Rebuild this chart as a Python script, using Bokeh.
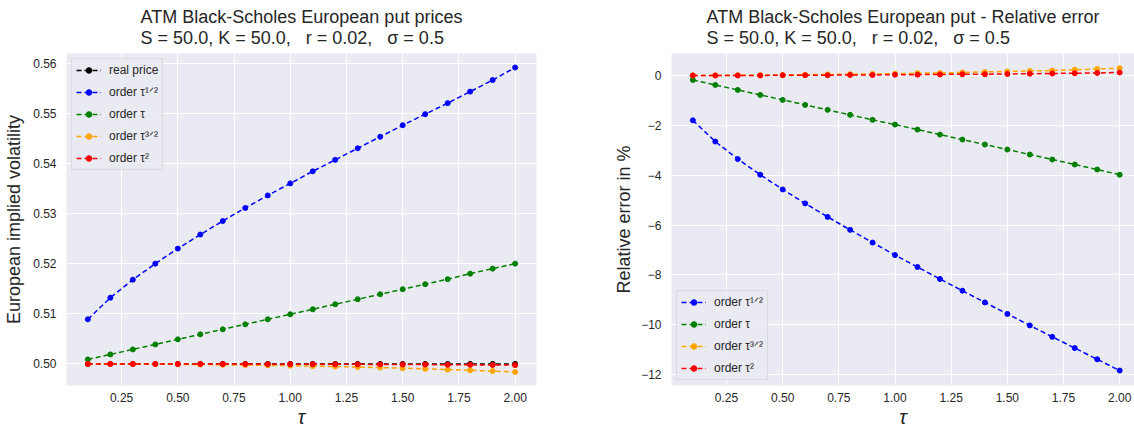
from bokeh.plotting import figure
from bokeh.layouts import row
from bokeh.models import Title, Legend, LegendItem, FixedTicker, NumeralTickFormatter, Range1d
from bokeh.embed import file_html
from bokeh.resources import INLINE

# ---------------- data ----------------
tau = [0.1, 0.2, 0.3, 0.4, 0.5, 0.6, 0.7, 0.8, 0.9, 1.0,
       1.1, 1.2, 1.3, 1.4, 1.5, 1.6, 1.7, 1.8, 1.9, 2.0]

# implied volatilities (left panel)
iv_real = [0.5000, 0.5000, 0.5000, 0.5000, 0.5000, 0.5000, 0.5000, 0.5000, 0.5000, 0.5000,
           0.5000, 0.5000, 0.5000, 0.5000, 0.5000, 0.5000, 0.5000, 0.5000, 0.5000, 0.5000]
iv_half = [0.5089, 0.5132, 0.5168, 0.5200, 0.5230, 0.5258, 0.5285, 0.5311, 0.5336, 0.5360,
           0.5384, 0.5407, 0.5430, 0.5453, 0.5476, 0.5498, 0.5520, 0.5543, 0.5566, 0.5591]
iv_one = [0.5009, 0.5019, 0.5029, 0.5039, 0.5049, 0.5059, 0.5069, 0.5079, 0.5089, 0.5099,
          0.5109, 0.5119, 0.5129, 0.5139, 0.5149, 0.5159, 0.5169, 0.5180, 0.5190, 0.5200]
iv_threehalf = [0.50000, 0.49999, 0.49997, 0.49995, 0.49992, 0.49988, 0.49983, 0.49978, 0.49972, 0.49965,
                0.49957, 0.49948, 0.49938, 0.49927, 0.49915, 0.49902, 0.49888, 0.49873, 0.49857, 0.49840]
iv_two = [0.50000, 0.50000, 0.50000, 0.49999, 0.49999, 0.49998, 0.49998, 0.49997, 0.49996, 0.49995,
          0.49994, 0.49993, 0.49992, 0.49990, 0.49989, 0.49987, 0.49985, 0.49982, 0.49979, 0.49976]

# relative errors in % (right panel)
err_half = [-1.80, -2.65, -3.35, -3.98, -4.57, -5.13, -5.67, -6.19, -6.70, -7.20,
            -7.68, -8.16, -8.63, -9.10, -9.56, -10.02, -10.48, -10.93, -11.38, -11.83]
err_one = [-0.18, -0.38, -0.58, -0.78, -0.98, -1.18, -1.38, -1.58, -1.78, -1.97,
           -2.17, -2.37, -2.57, -2.77, -2.97, -3.17, -3.37, -3.57, -3.77, -3.98]
err_threehalf = [0.00, 0.00, 0.01, 0.01, 0.02, 0.03, 0.04, 0.05, 0.06, 0.07,
                 0.09, 0.10, 0.12, 0.14, 0.16, 0.18, 0.20, 0.23, 0.26, 0.29]
err_two = [0.00, 0.00, 0.00, 0.00, 0.01, 0.01, 0.01, 0.02, 0.02, 0.03,
           0.03, 0.04, 0.05, 0.05, 0.06, 0.07, 0.08, 0.09, 0.10, 0.12]

x_ticks = [0.25, 0.5, 0.75, 1.0, 1.25, 1.5, 1.75, 2.0]
left_y_ticks = [0.50, 0.51, 0.52, 0.53, 0.54, 0.55, 0.56]
right_y_ticks = [-12, -10, -8, -6, -4, -2, 0]

labels = ["real price", "order τ¹ᐟ²", "order τ", "order τ³ᐟ²", "order τ²"]
colors = ["black", "blue", "green", "orange", "red"]

title_left = "ATM Black-Scholes European put prices"
title_right = "ATM Black-Scholes European put - Relative error"
NB = "\u00a0"
subtitle = ("S" + NB + "=" + NB + "50.0," + NB + "K" + NB + "=" + NB + "50.0," + NB * 3 +
            "r" + NB + "=" + NB + "0.02," + NB * 3 + "σ" + NB + "=" + NB + "0.5")

# ---------------- style ----------------
FONT = "Liberation Sans"
BG = "#EAEAF2"
TXT = "#262626"


def style(p):
    p.background_fill_color = BG
    p.border_fill_color = "white"
    p.outline_line_color = None
    p.grid.grid_line_color = "white"
    p.grid.grid_line_width = 1
    for ax in list(p.xaxis) + list(p.yaxis):
        ax.axis_line_color = None
        ax.major_tick_line_color = None
        ax.minor_tick_line_color = None
        ax.major_tick_out = 0
        ax.major_tick_in = 0
        ax.minor_tick_out = 0
        ax.major_label_text_font = FONT
        ax.major_label_text_font_size = "12px"
        ax.major_label_text_color = TXT
        ax.axis_label_text_font = FONT
        ax.axis_label_text_color = TXT
        ax.axis_label_text_font_style = "normal"
        ax.axis_label_text_font_size = "18px"
    p.xaxis.axis_label = "τ"
    p.xaxis.axis_label_text_font_style = "italic"
    p.xaxis.axis_label_text_font_size = "20px"
    p.xaxis.axis_label_standoff = 1
    p.xaxis.major_label_standoff = 7
    p.yaxis.major_label_standoff = 10
    p.yaxis.axis_label_standoff = 6
    p.xaxis.ticker = FixedTicker(ticks=x_ticks)
    p.xaxis.formatter = NumeralTickFormatter(format="0.00")


def add_titles(p, main):
    p.add_layout(Title(text=main + "\n" + subtitle, align="center", vertical_align="middle",
                       text_font=FONT, text_font_size="18px", text_font_style="normal",
                       text_color=TXT, text_line_height=1.05, standoff=10), "above")


def series(p, y, color):
    r1 = p.line(tau, y, line_color=color, line_width=1.5, line_dash="5 3")
    r2 = p.scatter(tau, y, size=5, marker="circle", fill_color=color, line_color=color)
    return [r1, r2]


def make_legend(items, location):
    return Legend(items=items, location=location, margin=5, padding=4, spacing=8,
                  label_height=14, glyph_height=14, glyph_width=25, label_standoff=8,
                  background_fill_color=BG, background_fill_alpha=0.8,
                  border_line_color="#cccccc", border_line_width=1,
                  label_text_font=FONT, label_text_font_size="12px", label_text_color=TXT)


# ---------------- left panel ----------------
p1 = figure(frame_width=470, frame_height=332, output_backend="svg", toolbar_location=None,
            x_range=Range1d(0.005, 2.095), y_range=Range1d(0.4957, 0.5619),
            min_border_left=66, min_border_right=10, min_border_top=53, min_border_bottom=43)
style(p1)
p1.yaxis.axis_label = "European implied volatility"
p1.yaxis.ticker = FixedTicker(ticks=left_y_ticks)
p1.yaxis.formatter = NumeralTickFormatter(format="0.00")
add_titles(p1, title_left)

left_series = [iv_real, iv_half, iv_one, iv_threehalf, iv_two]
items1 = []
for lab, col, ys in zip(labels, colors, left_series):
    items1.append(LegendItem(label=lab, renderers=series(p1, ys, col)))
p1.add_layout(make_legend(items1, "top_left"))

# ---------------- right panel ----------------
p2 = figure(frame_width=463, frame_height=332, output_backend="svg", toolbar_location=None,
            x_range=Range1d(0.005, 2.066), y_range=Range1d(-12.43, 0.88),
            min_border_left=125, min_border_right=0, min_border_top=53, min_border_bottom=43)
style(p2)
p2.yaxis.axis_label = "Relative error in %"
p2.yaxis.axis_label_standoff = 4
p2.yaxis.ticker = FixedTicker(ticks=right_y_ticks)
p2.yaxis.major_label_overrides = {t: (str(t).replace("-", "\u2212")) for t in right_y_ticks}
add_titles(p2, title_right)

right_series = [err_half, err_one, err_threehalf, err_two]
items2 = []
for lab, col, ys in zip(labels[1:], colors[1:], right_series):
    items2.append(LegendItem(label=lab, renderers=series(p2, ys, col)))
p2.add_layout(make_legend(items2, "bottom_left"))

layout = row(p1, p2)
open("out.html", "w").write(file_html(layout, INLINE))
